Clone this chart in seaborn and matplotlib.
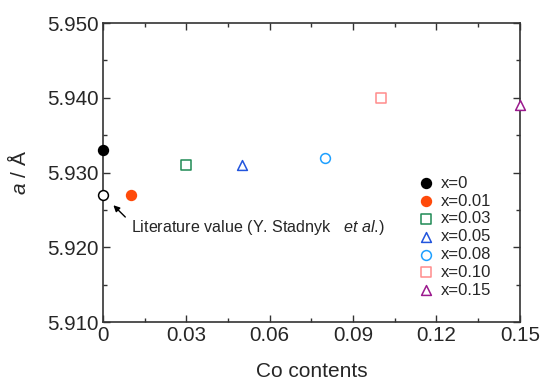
import matplotlib
matplotlib.use("Agg")
import matplotlib.pyplot as plt
import seaborn as sns
import pandas as pd
from matplotlib.ticker import MultipleLocator, FixedLocator, FixedFormatter

# Lattice parameter vs Co content
labels = ["x=0", "x=0.01", "x=0.03", "x=0.05", "x=0.08", "x=0.10", "x=0.15"]
co_content = [0.0, 0.01, 0.03, 0.05, 0.08, 0.10, 0.15]
lattice_a = [5.933, 5.927, 5.931, 5.931, 5.932, 5.940, 5.939]
markers = ["o", "o", "s", "^", "o", "s", "^"]
colors = ["#000000", "#ff4a0a", "#1f8a55", "#2255dd", "#1ea0ff", "#ff8c8c", "#9b1a8e"]
filled = [True, True, False, False, False, False, False]

lit_x = [0.0]
lit_a = [5.927]

x_ticks = [0, 0.03, 0.06, 0.09, 0.12, 0.15]
x_tick_labels = ["0", "0.03", "0.06", "0.09", "0.12", "0.15"]
y_ticks = [5.910, 5.920, 5.930, 5.940, 5.950]
y_tick_labels = ["5.910", "5.920", "5.930", "5.940", "5.950"]

sns.set_style("ticks")
plt.rcParams["font.family"] = ["Liberation Sans", "DejaVu Sans"]
plt.rcParams["mathtext.fontset"] = "custom"
plt.rcParams["mathtext.it"] = "Liberation Sans:italic"
plt.rcParams["mathtext.rm"] = "Liberation Sans"

fig = plt.figure(figsize=(5.41, 3.84), dpi=100)
ax = fig.add_axes([0.190, 0.161, 0.771, 0.779])

df = pd.DataFrame({"x": co_content, "a": lattice_a, "label": labels})

for i, row in df.iterrows():
    fc = colors[i] if filled[i] else "white"
    sns.scatterplot(data=df.iloc[[i]], x="x", y="a", marker=markers[i], s=50,
                    facecolor=fc, edgecolor=colors[i], linewidth=1.1,
                    label=row["label"], ax=ax, clip_on=False, zorder=3)

lit_df = pd.DataFrame({"x": lit_x, "a": lit_a})
sns.scatterplot(data=lit_df, x="x", y="a", marker="o", s=50, facecolor="white",
                edgecolor="black", linewidth=1.1, ax=ax, clip_on=False, zorder=3,
                legend=False)

ax.annotate("", xy=(0.0031, 5.9259), xytext=(0.0088, 5.9238),
            arrowprops=dict(arrowstyle="-|>", color="black", lw=1.0,
                            mutation_scale=9))
ax.text(0.0101, 5.9220, "Literature value (Y. Stadnyk   $et$ $al$.)",
        fontsize=11.6, va="baseline", ha="left")

ax.set_xlim(0, 0.15)
ax.set_ylim(5.910, 5.950)
ax.xaxis.set_major_locator(FixedLocator(x_ticks))
ax.xaxis.set_major_formatter(FixedFormatter(x_tick_labels))
ax.xaxis.set_minor_locator(MultipleLocator(0.015))
ax.yaxis.set_major_locator(FixedLocator(y_ticks))
ax.yaxis.set_major_formatter(FixedFormatter(y_tick_labels))
ax.yaxis.set_minor_locator(MultipleLocator(0.005))

ax.tick_params(which="both", direction="in", top=True, right=True,
               color="#333333", width=1.0)
ax.tick_params(which="major", length=5, labelsize=14.8, pad=3)
ax.tick_params(which="minor", length=3)
for sp in ax.spines.values():
    sp.set_linewidth(1.2)
    sp.set_color("#333333")

ax.set_xlabel("Co contents", fontsize=15, labelpad=12)
ax.set_ylabel("$a$ / Å", fontsize=15, labelpad=12)

ax.legend(loc="upper left", bbox_to_anchor=(0.73, 0.512), frameon=False,
          fontsize=12, handletextpad=0.1, labelspacing=0.17,
          borderaxespad=0, handlelength=1.5)

fig.savefig("out.png", dpi=100)
